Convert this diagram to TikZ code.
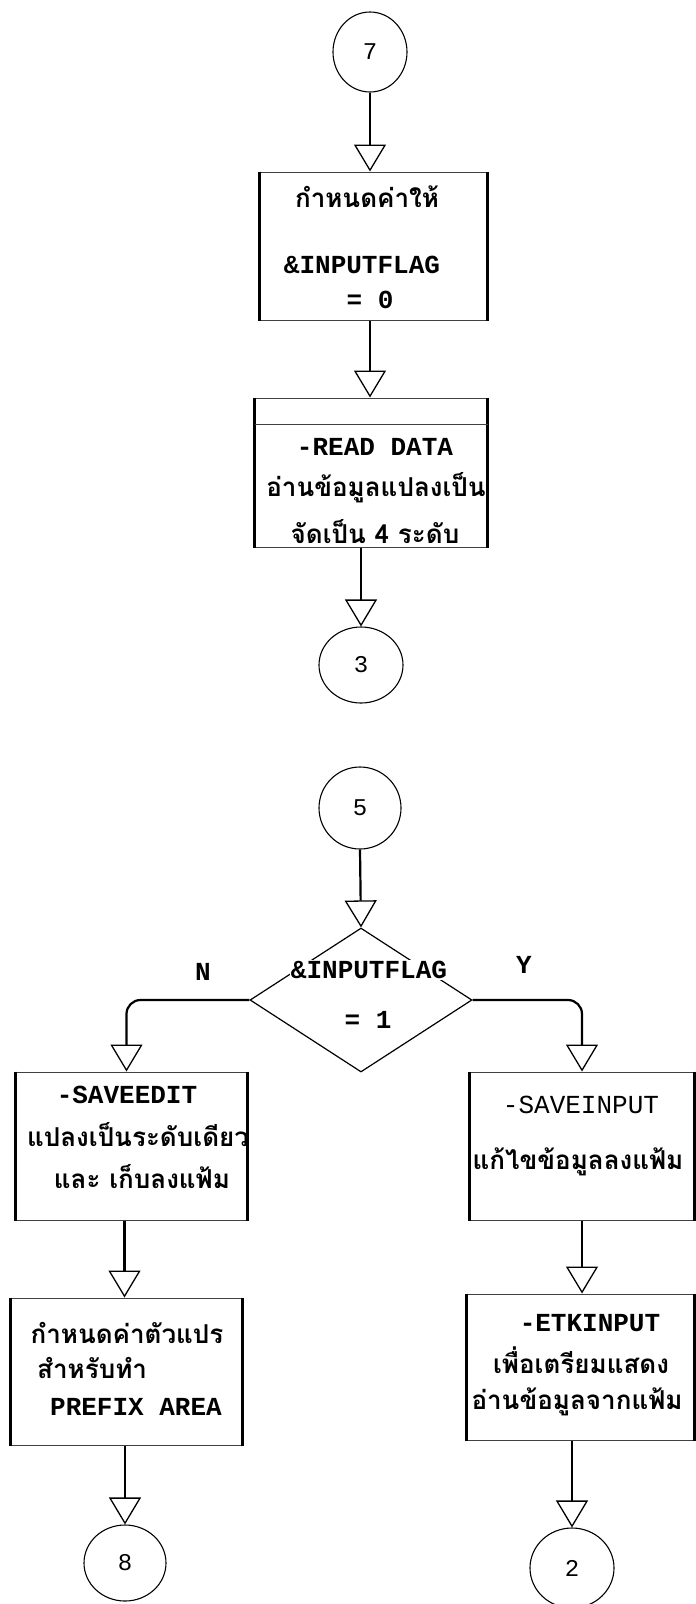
\documentclass[tikz,border=0pt]{standalone}
\usepackage{fontspec}
\setmainfont{Liberation Mono}
\newfontfamily\thaifont[Script=Thai]{Loma}
\usetikzlibrary{arrows.meta,shapes.geometric}
\begin{document}
\begin{tikzpicture}[x=1pt,y=-1pt,
  conn/.style={line width=2.2pt,-{Triangle[open,width=32pt,length=27pt,line width=1.3pt]}},
  box/.style={draw=black!75,line width=1pt,rectangle,inner sep=0pt},
  side/.style={line width=2.4pt},
  term/.style={draw,ellipse,line width=1.1pt,inner sep=0pt,font=\fontsize{24}{28}\selectfont},
  lat/.style={font=\fontsize{26}{30}\selectfont\bfseries,inner sep=1pt},
  latl/.style={font=\fontsize{26}{30}\selectfont,inner sep=1pt},
  th/.style={font=\thaifont\fontsize{26}{30}\selectfont\bfseries,inner sep=1pt},
]
\useasboundingbox (0,0) rectangle (696,1604);
\fill[white] (0,0) rectangle (696,1604);

% ---- upper chart ----
\node[term,minimum width=74pt,minimum height=80pt] (c7) at (370,52) {7};
\node[box,minimum width=227pt,minimum height=148pt] (b1) at (373.5,246) {};
\draw[side] (b1.north west) -- (b1.south west) (b1.north east) -- (b1.south east);
\node[th]  (b1a) at (367,197) {กำหนดค่าให้};
\node[lat] (b1b) at (362,265) {\&INPUTFLAG};
\node[lat] (b1c) at (370,300) {= 0};

\node[box,minimum width=232pt,minimum height=149pt] (b2) at (371,472.5) {};
\draw[side] (b2.north west) -- (b2.south west) (b2.north east) -- (b2.south east);
\draw[line width=1pt,black!75] ([yshift=-27pt]b2.north west) -- ([yshift=-27pt]b2.north east);
\node[lat] (b2a) at (375,447) {-READ DATA};
\node[th]  (b2b) at (376,488) {อ่านข้อมูลแปลงเป็น};
\node[th]  (b2c) at (375,532) {จัดเป็น 4 ระดับ};

\node[term,minimum width=84pt,minimum height=76pt] (c3) at (361,665) {3};

\draw[conn] (c7.south) -- (b1.north -| c7.south);
\draw[conn] (b1.south -| c7.south) -- (b2.north -| c7.south);
\draw[conn] (b2.south -| c3.north) -- (c3.north);

% ---- lower chart ----
\node[term,minimum width=82pt,minimum height=82pt] (c5) at (360,808) {5};
\node[draw,diamond,line width=1.2pt,inner sep=0pt,minimum width=222pt,minimum height=144pt] (d) at (361,1000) {};
\node[lat,fill=white] (d1) at (369,970) {\&INPUTFLAG};
\node[lat] (d2) at (368,1020) {= 1};
\node[lat] (nN) at (203,972) {N};
\node[lat] (nY) at (524,965) {Y};

\node[box,minimum width=231pt,minimum height=148pt] (sb) at (131.5,1146) {};
\draw[side] (sb.north west) -- (sb.south west) (sb.north east) -- (sb.south east);
\node[lat] (sba) at (127,1095) {-SAVEEDIT};
\node[th]  (sbb) at (138,1135) {แปลงเป็นระดับเดียว};
\node[th]  (sbc) at (142,1177) {และ เก็บลงแฟ้ม};

\node[box,minimum width=224pt,minimum height=148pt] (si) at (582,1146) {};
\draw[side] (si.north west) -- (si.south west) (si.north east) -- (si.south east);
\node[latl] (sia) at (581,1105) {-SAVEINPUT};
\node[th]   (sib) at (578,1162) {แก้ไขข้อมูลลงแฟ้ม};

\node[box,minimum width=231pt,minimum height=147pt] (pf) at (126.5,1371.5) {};
\draw[side] (pf.north west) -- (pf.south west) (pf.north east) -- (pf.south east);
\node[th]  (pfa) at (127,1333) {กำหนดค่าตัวแปร};
\node[th,anchor=west] (pfb) at (36,1368) {สำหรับทำ};
\node[lat] (pfc) at (136,1407) {PREFIX AREA};

\node[box,minimum width=227pt,minimum height=146pt] (ek) at (580.5,1367) {};
\draw[side] (ek.north west) -- (ek.south west) (ek.north east) -- (ek.south east);
\node[lat] (eka) at (590,1323) {-ETKINPUT};
\node[th]  (ekb) at (581,1360) {เพื่อเตรียมแสดง};
\node[th]  (ekc) at (577,1402) {อ่านข้อมูลจากแฟ้ม};

\node[term,minimum width=82pt,minimum height=76pt] (c8) at (125,1563) {8};
\node[term,minimum width=84pt,minimum height=80pt] (c2) at (572,1568) {2};

\draw[conn] (c5.south) -- (d.north);
\draw[conn,rounded corners=14pt] (d.west) -| ([xshift=-5pt]sb.north);
\draw[conn,rounded corners=14pt] (d.east) -| (si.north);
\draw[conn] ([xshift=-7pt]sb.south) -- ([xshift=-7pt]sb.south |- pf.north);
\draw[conn] (pf.south -| c8.north) -- (c8.north);
\draw[conn] (si.south) -- (si.south |- ek.north);
\draw[conn] (ek.south -| c2.north) -- (c2.north);
\end{tikzpicture}
\end{document}
